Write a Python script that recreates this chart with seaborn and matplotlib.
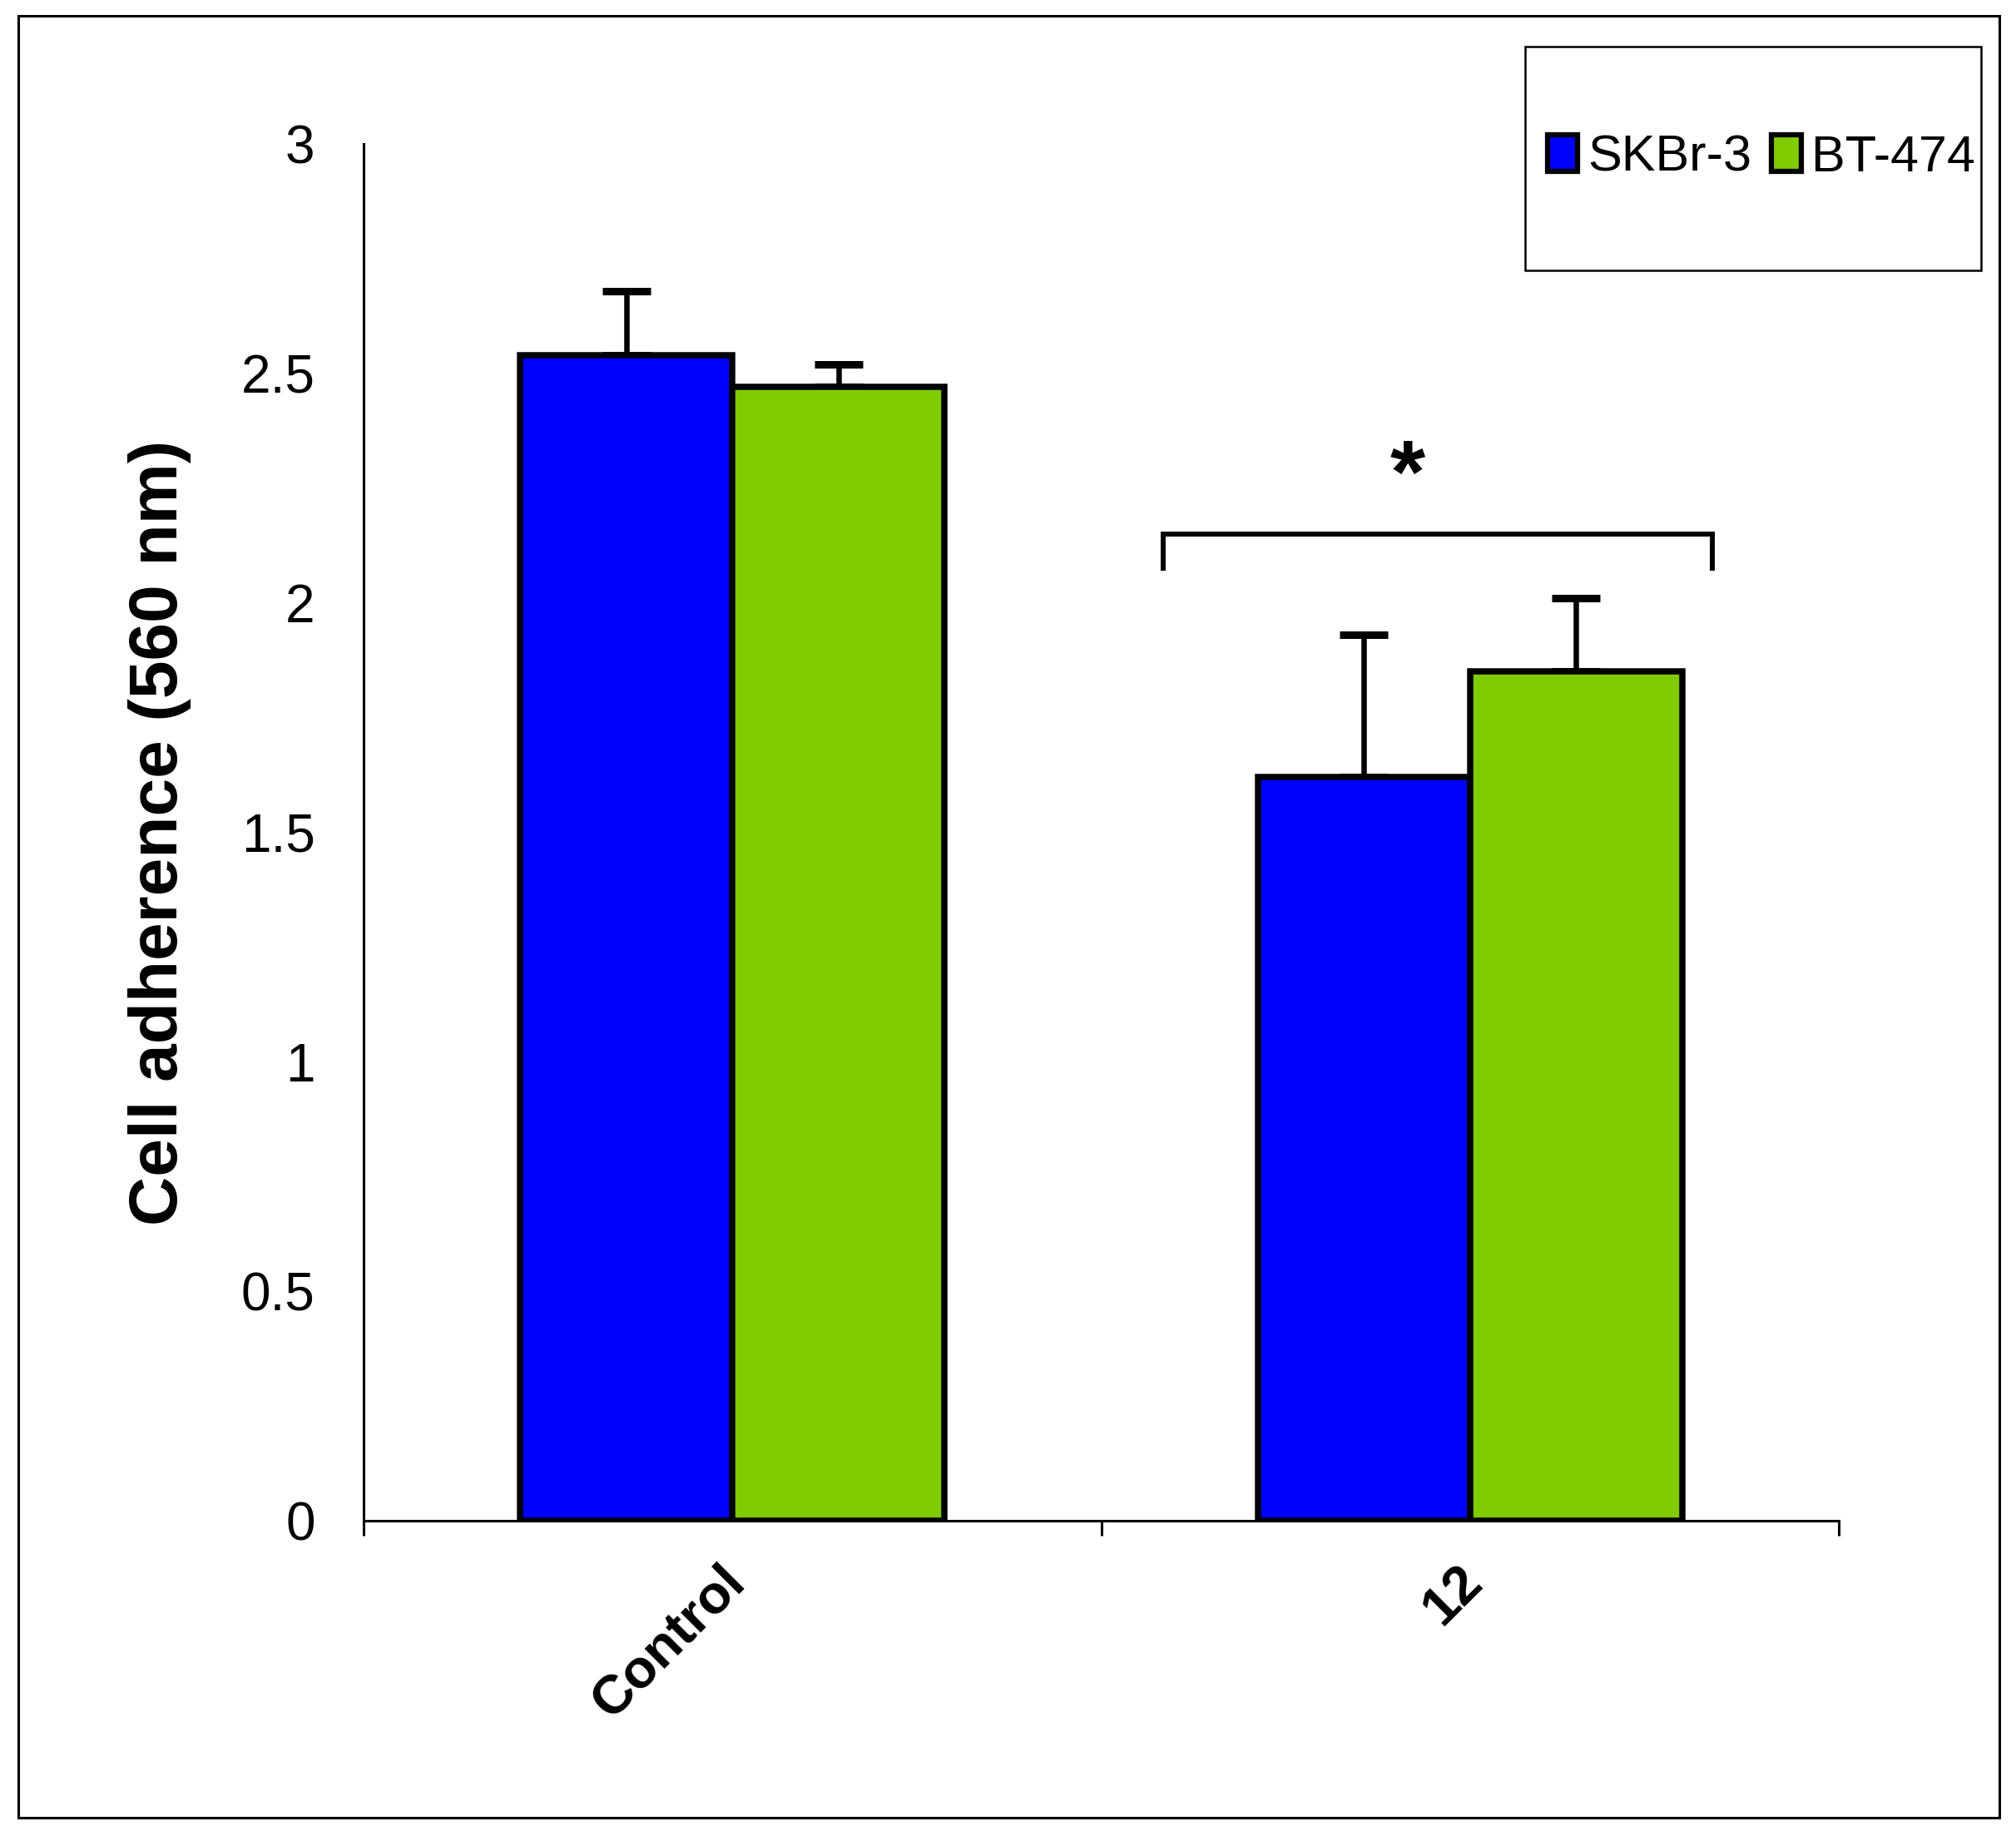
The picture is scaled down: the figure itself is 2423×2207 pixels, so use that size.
import matplotlib
matplotlib.use("Agg")
import matplotlib.pyplot as plt
import matplotlib.transforms as mtransforms
from matplotlib.patches import Patch, Rectangle
import seaborn as sns
import pandas as pd
import numpy as np

# ---- data ----
categories = ["Control", "12"]
series = ["SKBr-3", "BT-474"]
skbr3_values = [2.54, 1.62]
bt474_values = [2.47, 1.85]
skbr3_err = [0.14, 0.31]
bt474_err = [0.05, 0.16]
ytick_values = [0, 0.5, 1, 1.5, 2, 2.5, 3]
ytick_labels = ["0", "0.5", "1", "1.5", "2", "2.5", "3"]
ylabel = "Cell adherence (560 nm)"
colors = ["#0000FF", "#80CC00"]

df = pd.DataFrame({
    "category": categories * 2,
    "series": [series[0]] * 2 + [series[1]] * 2,
    "value": skbr3_values + bt474_values,
    "err": skbr3_err + bt474_err,
})

sns.set_theme(style="white")
plt.rcParams["font.family"] = ["Liberation Sans", "DejaVu Sans"]
plt.rcParams["text.color"] = "black"
plt.rcParams["axes.labelcolor"] = "black"
plt.rcParams["xtick.color"] = "black"
plt.rcParams["ytick.color"] = "black"

W, H = 2423, 2207
fig = plt.figure(figsize=(W / 100, H / 100), dpi=100)
ax = fig.add_axes([437 / W, 1 - 1828 / H, (2210 - 437) / W, (1828 - 173) / H])

sns.barplot(data=df, x="category", y="value", hue="series", order=categories,
            hue_order=series, palette=colors, width=0.575, gap=0,
            edgecolor="black", linewidth=5.4, saturation=1, errorbar=None,
            legend=False, ax=ax, zorder=3)

# error bars (upper only), positioned from the bars drawn by seaborn
for container, s in zip(ax.containers, series):
    sub = df[df["series"] == s].set_index("category").loc[categories]
    xs = [p.get_x() + p.get_width() / 2 for p in container.patches]
    ax.errorbar(xs, sub["value"].values,
                yerr=[np.zeros(len(xs)), sub["err"].values],
                fmt="none", ecolor="black", elinewidth=4.7, capsize=21,
                capthick=6.5, zorder=2)

ax.set_xlim(-0.5, 1.5)
ax.set_ylim(0, 3)
ax.set_yticks(ytick_values)
ax.set_yticklabels(ytick_labels, fontsize=46)
ax.set_xticks([-0.5, 0.5, 1.5])
ax.set_xticklabels(["", "", ""])
ax.set_xticks([0, 1], minor=True)
ax.set_xticklabels(categories, minor=True, fontsize=47, fontweight="bold",
                   rotation=45, ha="right", va="center", rotation_mode="anchor")
ax.tick_params(axis="x", which="minor", length=0, pad=46)
ax.tick_params(axis="both", which="major", length=13, width=2.2,
               color="black", direction="out")
ax.tick_params(axis="y", pad=29)
ax.tick_params(axis="x", which="major", bottom=True)
offset = mtransforms.ScaledTranslation(0.05, 0, fig.dpi_scale_trans)
for lab in ax.get_xticklabels(minor=True):
    lab.set_transform(lab.get_transform() + offset)

for side in ["top", "right"]:
    ax.spines[side].set_visible(False)
for side in ["left", "bottom"]:
    ax.spines[side].set_color("black")
    ax.spines[side].set_linewidth(2.2)
ax.set_xlabel("")
ax.set_ylabel(ylabel, fontsize=59, fontweight="bold")
ax.yaxis.set_label_coords(-0.117, 0.5)

# significance bracket
bx0, bx1, by, byl = 0.584, 1.329, 2.15, 2.07
ax.plot([bx0, bx0, bx1, bx1], [byl, by, by, byl], color="black", lw=4.3,
        solid_capstyle="butt", solid_joinstyle="miter", clip_on=False)
ax.text(0.915, 2.27, "*", fontsize=78, fontweight="bold",
        ha="center", va="center")

# legend box
fig.patches.append(Rectangle((1833 / W, 1 - 325 / H), (2381 - 1833) / W,
                             (325 - 56) / H, transform=fig.transFigure,
                             fill=False, edgecolor="black", lw=1.8))
handles = [Patch(facecolor=c, edgecolor="black", linewidth=4.5, label=s)
           for c, s in zip(colors, series)]
fig.legend(handles=handles, loc="center", bbox_to_anchor=(2117 / W, 1 - 190 / H),
           ncol=2, frameon=False, fontsize=44, handlelength=0.58,
           handleheight=0.72, handletextpad=0.2, columnspacing=0.4,
           borderpad=0)

# outer border
fig.patches.append(Rectangle((22 / W, 1 - 2185 / H), (2403 - 22) / W,
                             (2185 - 19) / H, transform=fig.transFigure,
                             fill=False, edgecolor="black", lw=2.2))

fig.savefig("out.png", dpi=100, facecolor="white")
